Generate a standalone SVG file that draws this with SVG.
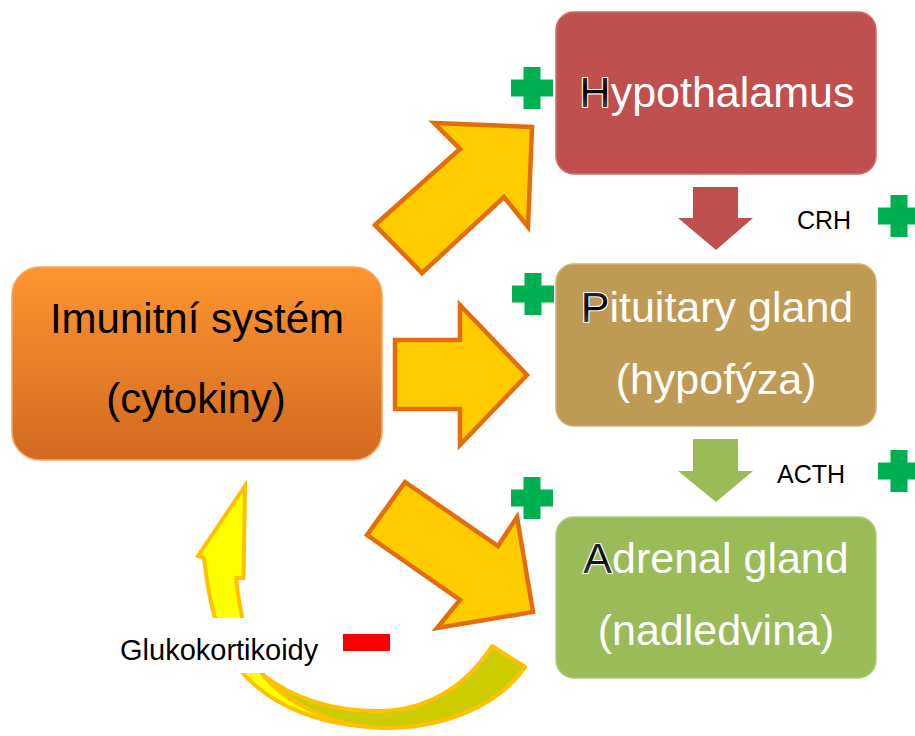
<svg xmlns="http://www.w3.org/2000/svg" width="915" height="736" viewBox="0 0 915 736">
<defs>
<linearGradient id="gImm" x1="0" y1="0" x2="0" y2="1">
<stop offset="0" stop-color="#FE9530"/>
<stop offset="1" stop-color="#D2691F"/>
</linearGradient>
<linearGradient id="gLet" x1="0" y1="0" x2="0" y2="1">
<stop offset="0" stop-color="#404040"/>
<stop offset="0.5" stop-color="#000"/>
<stop offset="1" stop-color="#606060"/>
</linearGradient>
<g id="plus"><path d="M-8.5,-21 H8.5 V-8.5 H21 V8.5 H8.5 V21 H-8.5 V8.5 H-21 V-8.5 H-8.5 Z" fill="#00B050"/></g>
</defs>
<style>
.big{font-family:"Liberation Sans",Arial,sans-serif;font-size:43px;fill:#fff;text-anchor:middle}
.imm{font-family:"Liberation Sans",Arial,sans-serif;font-size:42px;fill:#000;text-anchor:middle}
.lbl{font-family:"Liberation Sans",Arial,sans-serif;font-size:25px;fill:#000}
.gl{font-size:29px}
.first{fill:url(#gLet);stroke:#fff;stroke-width:2.2px;paint-order:stroke;stroke-linejoin:round}
.fat{fill:#FFCC00;stroke:#E46C0A;stroke-width:4.5;stroke-linejoin:miter}
.box{stroke-width:1.5}
</style>
<rect width="915" height="736" fill="#fff"/>

<g id="connectors">
<path id="curve-front" d="M245,486 L243.5,578 L236,578 C240,615 248,650 262,673 C285,705 330,722 385,727 C325,728 270,706 240,670 C220,645 210,610 204,558 L198,556 Z" fill="#FFFF00" stroke="#FFC000" stroke-width="4" stroke-linejoin="miter"/>
<path id="curve-back" d="M492,646 L525,667 C500,703 450,727 388,728 C335,728 292,706 263,675 C296,700 336,711 378,711 C425,711 465,688 492,646 Z" fill="#CCCC00" stroke="#FFC000" stroke-width="4" stroke-linejoin="round"/>
<polygon class="fat" points="375,225 460,149 434,123 532,127 528,227 504,197 422,273"/>
<polygon class="fat" points="395,340 460,340 460,305 527,375 460,445 460,409 395,409"/>
<polygon class="fat" points="405,482 498,546 517,517 533,612 437,628 460,600 367,535"/>
<polygon points="693,187 738,187 738,218 753,218 716,250 678,218 693,218" fill="#C0504D"/>
<polygon points="693,439 738,439 738,471 753,471 716,502 678,471 693,471" fill="#9BBB59"/>
</g>

<g id="label-gluko">
<rect x="110" y="618" width="226" height="55" fill="#fff"/>
<text class="lbl gl" x="120" y="660">Glukokortikoidy</text>
<rect x="343" y="634" width="47" height="17" fill="#FF0000"/>
</g>

<g id="node-immune">
<rect class="box" x="12" y="267" width="370" height="193" rx="28" fill="url(#gImm)" stroke="#FBA55C"/>
<text class="imm" x="197" y="333">Imunitní systém</text>
<text class="imm" x="196" y="413">(cytokiny)</text>
</g>

<g id="node-hypothalamus">
<rect class="box" x="556" y="12" width="320" height="162" rx="18" fill="#C0504D" stroke="#CD6E6B"/>
<text class="big" x="717" y="107"><tspan class="first">H</tspan>ypothalamus</text>
</g>

<g id="node-pituitary">
<rect class="box" x="556" y="264" width="320" height="162" rx="18" fill="#BF9A54" stroke="#CDB07A"/>
<text class="big" x="717" y="322"><tspan class="first">P</tspan>ituitary gland</text>
<text class="big" x="716" y="394">(hypofýza)</text>
</g>

<g id="node-adrenal">
<rect class="box" x="556" y="517" width="320" height="161" rx="18" fill="#9BBB59" stroke="#B1CB7E"/>
<text class="big" x="716" y="573"><tspan class="first">A</tspan>drenal gland</text>
<text class="big" x="716" y="645">(nadledvina)</text>
</g>

<g id="label-crh">
<text class="lbl" x="797" y="229">CRH</text>
<use href="#plus" x="899" y="216"/>
</g>
<g id="label-acth">
<text class="lbl" x="777" y="483">ACTH</text>
<use href="#plus" x="899" y="471"/>
</g>
<g id="signs">
<use href="#plus" x="532" y="88"/>
<use href="#plus" x="533" y="294"/>
<use href="#plus" x="532" y="498"/>
</g>
</svg>
